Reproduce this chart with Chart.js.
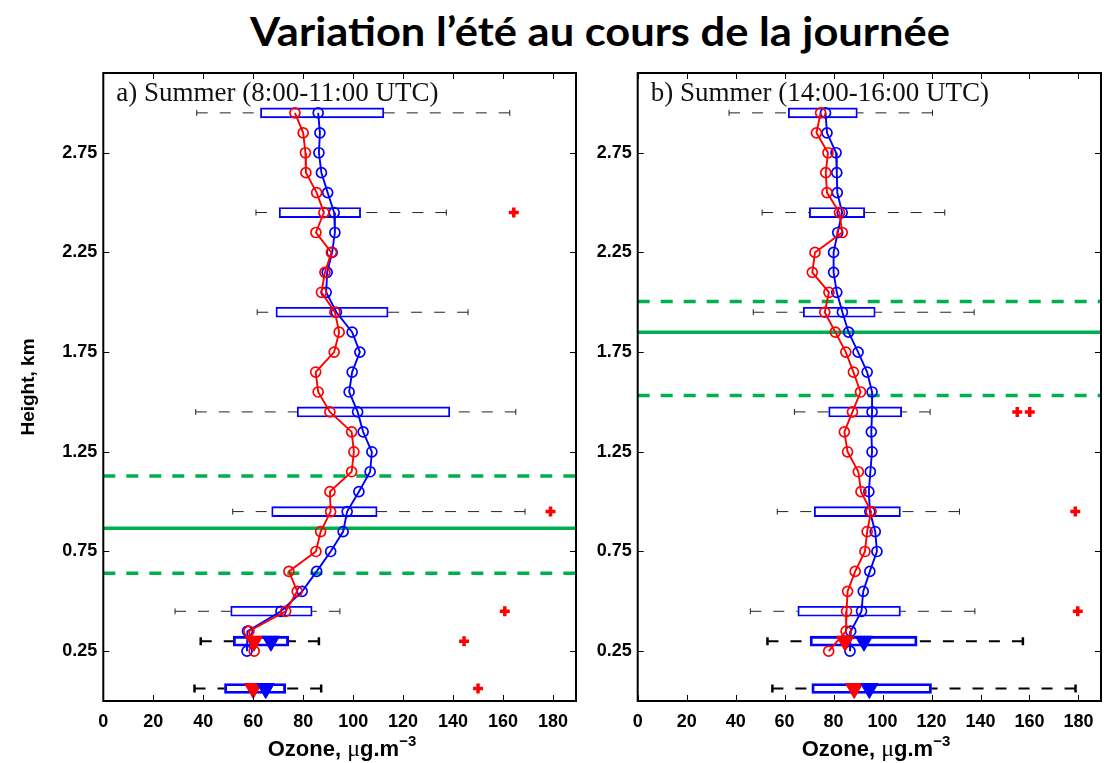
<!DOCTYPE html>
<html>
<head>
<meta charset="utf-8">
<script src="https://cdn.jsdelivr.net/npm/chart.js@4.4.1/dist/chart.umd.min.js"></script>
<style>
  body { margin: 0; background: #fff; width: 1112px; height: 763px; position: relative; overflow: hidden; }
  #title { position: absolute; left: 250px; top: 7px; white-space: nowrap; }
  #titleText { display: inline-block; font: bold 40px Lato; line-height: 48px; color: #000; transform-origin: left center; }
  .panel { position: absolute; top: 0; height: 763px; }
  .xlab { position: absolute; top: 736px; width: 300px; text-align: center; font: bold 22px "Liberation Sans"; line-height: 25px; color: #000; white-space: nowrap; }
  .xlab .mu { font-family: "Liberation Serif"; font-weight: normal; font-size: 24px; }
  .xlab sup { font-size: 15px; line-height: 0; vertical-align: 10px; }
</style>
</head>
<body>
<div id="title"><span id="titleText">Variation l’été au cours de la journée</span></div>
<div class="panel" style="left:0;width:590px"><canvas id="chartA" width="590" height="763"></canvas></div>
<div class="panel" style="left:590px;width:522px"><canvas id="chartB" width="522" height="763"></canvas></div>
<div class="xlab" style="left:192px">Ozone, <span class="mu">μ</span>g.m<sup>−3</sup></div>
<div class="xlab" style="left:726px">Ozone, <span class="mu">μ</span>g.m<sup>−3</sup></div>
<script>
const xTicks = [0, 20, 40, 60, 80, 100, 120, 140, 160, 180];
const yTicks = [0.25, 0.75, 1.25, 1.75, 2.25, 2.75];

// heights of the profile points (km)
const profileHeights = [2.95, 2.85, 2.75, 2.65, 2.55, 2.45, 2.35, 2.25, 2.15, 2.05,
  1.95, 1.85, 1.75, 1.65, 1.55, 1.45, 1.35, 1.25, 1.15, 1.05,
  0.95, 0.85, 0.75, 0.65, 0.55, 0.45, 0.35, 0.25];
// heights of the box plots (km)
const boxHeights = [2.95, 2.45, 1.95, 1.45, 0.95, 0.45, 0.30, 0.0625];

// a) 8:00-11:00 UTC
const redA = [76.7, 80.0, 80.9, 81.1, 85.4, 88.3, 85.1, 91.3, 88.7, 87.3,
  92.7, 94.4, 92.4, 85.0, 86.0, 90.7, 99.4, 100.3, 99.4, 90.7,
  91.0, 87.0, 85.1, 74.3, 77.6, 73.0, 58.3, 60.4];
const blueA = [86.0, 86.7, 86.3, 87.3, 89.8, 92.4, 92.7, 91.6, 89.6, 89.2,
  93.3, 99.6, 102.7, 99.6, 98.4, 101.8, 104.0, 107.5, 106.8, 102.3,
  97.6, 96.0, 91.0, 85.4, 79.6, 71.1, 57.7, 57.5];
const q1A = [62.9, 70.4, 69.1, 77.6, 67.4, 51.0, 52.0, 48.5];
const q3A = [112.3, 103.0, 114.0, 138.7, 109.6, 83.6, 74.2, 73.0];
const wMinA = [37.4, 61.1, 61.6, 37.0, 51.8, 28.7, 39.0, 36.5];
const wMaxA = [162.7, 137.3, 146.0, 165.1, 168.8, 94.7, 86.3, 87.2];
const outXA = [164.3, 179.0, 160.7, 144.4, 150.0];
const outYA = [2.45, 0.95, 0.45, 0.30, 0.0625];
const triRedA = [60.3, 60.0];
const triBlueA = [67.1, 65.0];
const mlhA = [0.866, 1.129, 0.641];   // solid, dashed upper, dashed lower

// b) 14:00-16:00 UTC
const redB = [74.7, 73.0, 77.7, 76.8, 77.3, 82.4, 83.5, 72.4, 71.3, 78.1,
  76.4, 80.7, 85.0, 88.1, 91.0, 87.7, 84.4, 85.7, 90.1, 91.2,
  95.3, 93.7, 92.8, 88.8, 85.7, 85.3, 85.1, 78.0];
const blueB = [76.7, 77.3, 81.0, 81.3, 81.5, 83.5, 81.7, 80.0, 80.0, 81.3,
  83.6, 86.1, 90.0, 93.7, 95.7, 95.7, 95.4, 95.7, 95.0, 94.4,
  94.8, 97.0, 97.7, 94.8, 92.1, 91.4, 87.0, 86.7];
const q1B = [61.5, 70.1, 67.6, 78.0, 72.1, 65.4, 70.4, 71.1];
const q3B = [89.7, 92.7, 97.0, 107.8, 107.3, 107.3, 114.1, 120.0];
const wMinB = [37.3, 50.8, 47.2, 64.0, 57.0, 46.0, 53.0, 55.0];
const wMaxB = [120.4, 125.4, 137.4, 119.4, 131.4, 137.7, 157.3, 178.8];
const outXB = [155.0, 160.1, 178.7, 179.7];
const outYB = [1.45, 1.45, 0.95, 0.45];
const triRedB = [84.7, 88.4];
const triBlueB = [92.4, 94.6];
const mlhB = [1.849, 2.004, 1.532];

const X_MAX = 189.2;
const RED = '#ff0000', BLUE = '#0000ff', GREEN = '#00b050';
const tickFont = { family: 'Liberation Sans', size: 18, weight: 'bold' };

const framePlugin = {
  id: 'frame',
  afterDatasetsDraw(chart, args, opts) {
    const { ctx, chartArea: a, scales: { x, y } } = chart;
    ctx.save();
    ctx.strokeStyle = '#000';
    ctx.lineWidth = 1;
    ctx.beginPath();
    xTicks.forEach(v => {
      const px = Math.round(x.getPixelForValue(v)) + 0.5;
      ctx.moveTo(px, a.bottom); ctx.lineTo(px, a.bottom - 6);
      ctx.moveTo(px, a.top); ctx.lineTo(px, a.top + 6);
    });
    yTicks.forEach(v => {
      const py = Math.round(y.getPixelForValue(v)) + 0.5;
      ctx.moveTo(a.left, py); ctx.lineTo(a.left + 6, py);
      ctx.moveTo(a.right, py); ctx.lineTo(a.right - 6, py);
    });
    ctx.stroke();
    ctx.lineWidth = 2;
    ctx.strokeRect(a.left, a.top, a.right - a.left, a.bottom - a.top);
    ctx.font = '27px "Liberation Serif"';
    ctx.fillStyle = '#111';
    ctx.textBaseline = 'alphabetic';
    ctx.fillText(opts.label, a.left + 13, a.top + 28);
    ctx.restore();
  }
};

function pts(xs, ys) {
  return xs.map((v, i) => ({ x: v, y: ys[i] }));
}

function whiskers(idx, q1, q3, wMin, wMax) {
  const out = [];
  idx.forEach(i => {
    const h = boxHeights[i];
    out.push({ x: wMin[i], y: h }, { x: q1[i], y: h }, { x: NaN, y: h },
             { x: wMax[i], y: h }, { x: q3[i], y: h }, { x: NaN, y: h });
  });
  return out;
}

function caps(idx, wMin, wMax) {
  const out = [];
  idx.forEach(i => out.push({ x: wMin[i], y: boxHeights[i] }, { x: wMax[i], y: boxHeights[i] }));
  return out;
}

function hline(h) {
  return [{ x: 0, y: h }, { x: X_MAX, y: h }];
}

function makeChart(id, p) {
  const thin = [0, 1, 2, 3, 4, 5], thick = [6, 7];
  const lowH = boxHeights.slice(6);
  return new Chart(document.getElementById(id), {
    type: 'bar',
    data: {
      datasets: [
        {
          type: 'bar', indexAxis: 'y', order: 5,
          data: boxHeights.map((h, i) => ({ y: h, x: [p.q1[i], p.q3[i]] })),
          backgroundColor: 'rgba(0,0,0,0)', borderColor: BLUE,
          borderWidth: c => c.dataIndex >= 6 ? 2.2 : 1.2,
          borderSkipped: false, barThickness: 10
        },
        {
          type: 'line', order: 6, data: whiskers(thin, p.q1, p.q3, p.wMin, p.wMax),
          borderColor: '#222', borderWidth: 1, borderDash: [11, 12], pointRadius: 0, spanGaps: false
        },
        {
          type: 'line', order: 6, data: whiskers(thick, p.q1, p.q3, p.wMin, p.wMax),
          borderColor: '#000', borderWidth: 2, borderDash: [11, 12], pointRadius: 0, spanGaps: false
        },
        {
          type: 'scatter', order: 6, data: caps(thin, p.wMin, p.wMax),
          pointStyle: 'line', rotation: 90, pointRadius: 3, borderColor: '#222', borderWidth: 1
        },
        {
          type: 'scatter', order: 6, data: caps(thick, p.wMin, p.wMax),
          pointStyle: 'line', rotation: 90, pointRadius: 4, borderColor: '#000', borderWidth: 2.5
        },
        {
          type: 'line', order: 4, data: hline(p.mlh[0]),
          borderColor: GREEN, borderWidth: 3.5, pointRadius: 0
        },
        {
          type: 'line', order: 4, data: hline(p.mlh[1]),
          borderColor: GREEN, borderWidth: 3.5, borderDash: [12, 11], pointRadius: 0
        },
        {
          type: 'line', order: 4, data: hline(p.mlh[2]),
          borderColor: GREEN, borderWidth: 3.5, borderDash: [12, 11], pointRadius: 0
        },
        {
          type: 'line', order: 3, data: pts(p.blue, profileHeights),
          borderColor: BLUE, borderWidth: 1.9, pointStyle: 'circle', pointRadius: 5,
          pointBorderWidth: 1.7, pointBorderColor: BLUE, pointBackgroundColor: 'rgba(0,0,0,0)'
        },
        {
          type: 'line', order: 2, data: pts(p.red, profileHeights),
          borderColor: RED, borderWidth: 1.9, pointStyle: 'circle', pointRadius: 5,
          pointBorderWidth: 1.7, pointBorderColor: RED, pointBackgroundColor: 'rgba(0,0,0,0)'
        },
        {
          type: 'scatter', order: 2, data: pts(p.outX, p.outY),
          pointStyle: 'cross', pointRadius: 5, borderColor: RED, borderWidth: 3.5
        },
        {
          type: 'scatter', order: 1, data: pts(p.triRed, lowH),
          pointStyle: 'triangle', rotation: 180, pointRadius: 10,
          backgroundColor: RED, borderColor: RED, borderWidth: 1
        },
        {
          type: 'scatter', order: 0, data: pts(p.triBlue, lowH),
          pointStyle: 'triangle', rotation: 180, pointRadius: 10,
          backgroundColor: BLUE, borderColor: BLUE, borderWidth: 1
        }
      ]
    },
    options: {
      responsive: false,
      animation: false,
      devicePixelRatio: 1,
      events: [],
      layout: { padding: { top: 73, right: p.padRight, bottom: 0, left: 0 } },
      plugins: {
        legend: { display: false },
        tooltip: { enabled: false },
        frame: { label: p.label }
      },
      scales: {
        x: {
          type: 'linear', min: 0, max: X_MAX, offset: false,
          afterBuildTicks: s => { s.ticks = xTicks.map(v => ({ value: v })); },
          afterFit: s => { s.height = 62; },
          grid: { display: false, drawTicks: false, offset: false },
          border: { display: false },
          ticks: { font: tickFont, color: '#000', padding: 10, maxRotation: 0 }
        },
        y: {
          type: 'linear', min: 0, max: 3.15, offset: false,
          afterBuildTicks: s => { s.ticks = yTicks.map(v => ({ value: v })); },
          afterFit: s => { s.width = p.axisWidth; },
          grid: { display: false, drawTicks: false, offset: false },
          border: { display: false },
          ticks: { font: tickFont, color: '#000', padding: 6, callback: v => v.toFixed(2) },
          title: {
            display: p.yTitle !== '', text: p.yTitle, color: '#000',
            font: { family: 'Liberation Sans', size: 19, weight: 'bold' },
            padding: { top: 17, bottom: 0 }
          }
        }
      }
    },
    plugins: [framePlugin]
  });
}

makeChart('chartA', {
  red: redA, blue: blueA, q1: q1A, q3: q3A, wMin: wMinA, wMax: wMaxA,
  outX: outXA, outY: outYA, triRed: triRedA, triBlue: triBlueA, mlh: mlhA,
  label: 'a) Summer (8:00-11:00 UTC)', yTitle: 'Height, km', axisWidth: 103.3, padRight: 14
});
makeChart('chartB', {
  red: redB, blue: blueB, q1: q1B, q3: q3B, wMin: wMinB, wMax: wMaxB,
  outX: outXB, outY: outYB, triRed: triRedB, triBlue: triBlueB, mlh: mlhB,
  label: 'b) Summer (14:00-16:00 UTC)', yTitle: '', axisWidth: 47.7, padRight: 1
});

// fit the heading to the width it takes in the original
const t = document.getElementById('titleText');
const tw = t.getBoundingClientRect().width;
t.style.transform = 'scaleX(' + (700 / tw) + ')';
</script>
</body>
</html>
